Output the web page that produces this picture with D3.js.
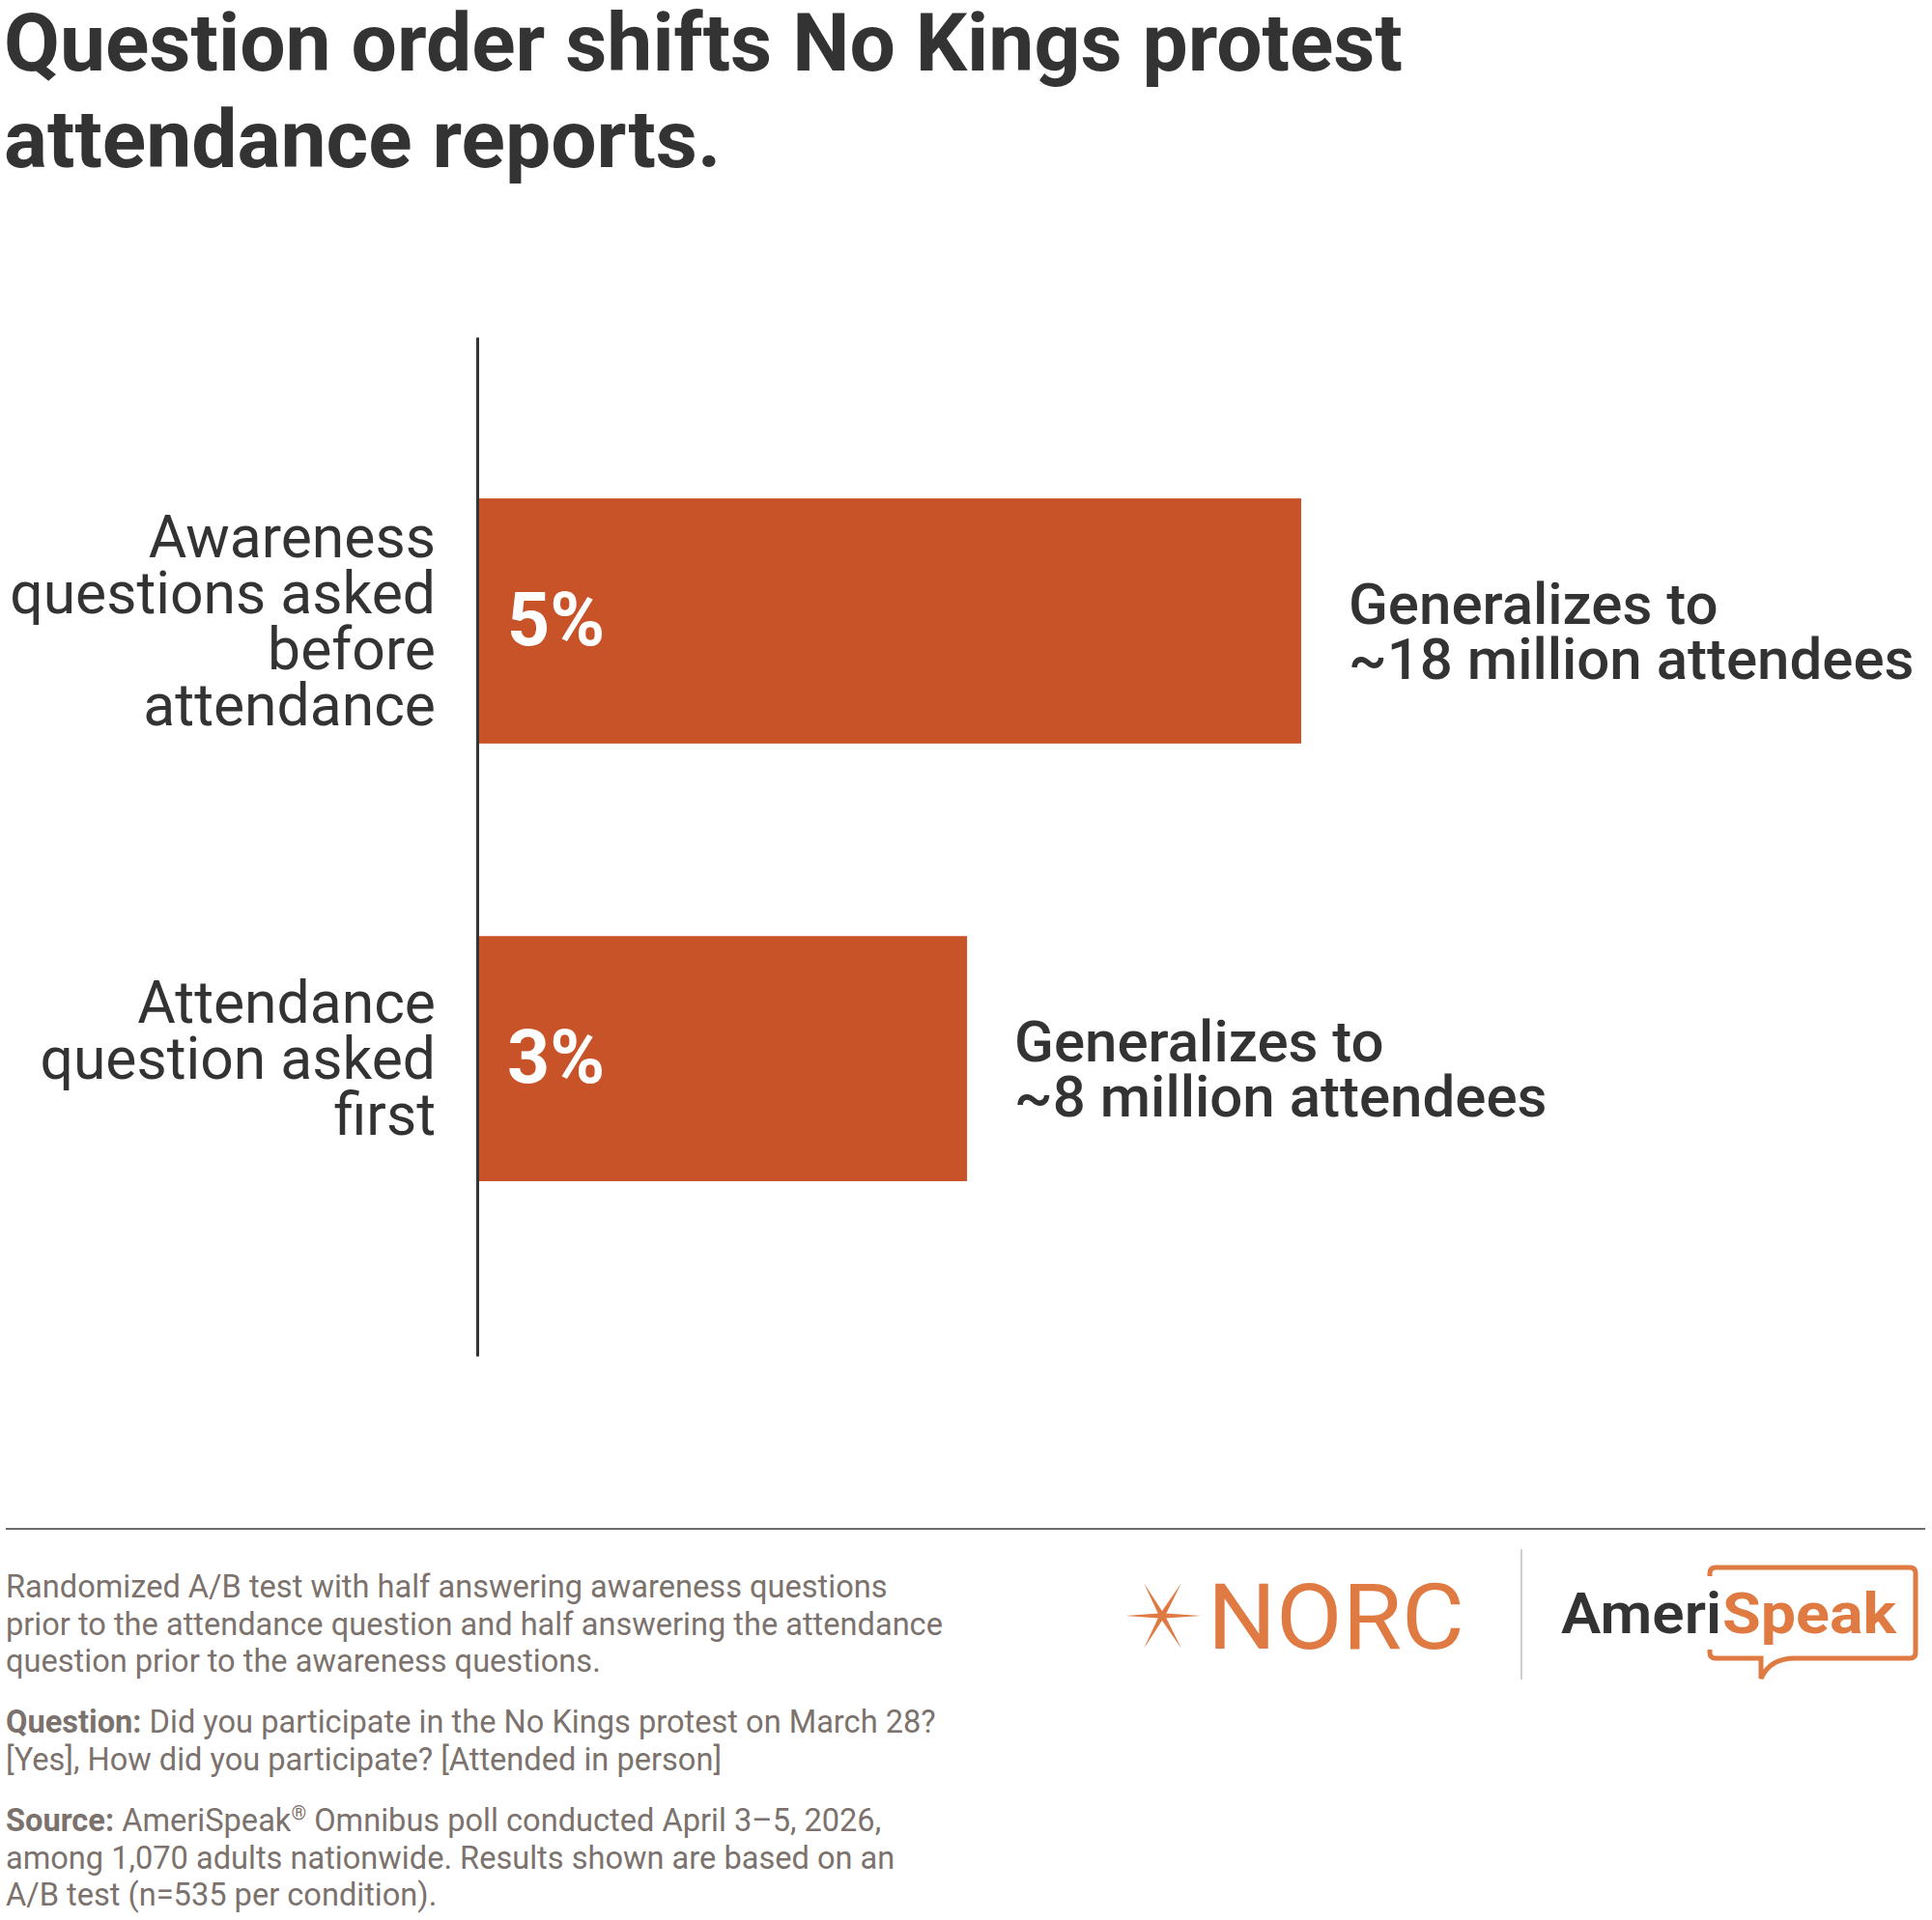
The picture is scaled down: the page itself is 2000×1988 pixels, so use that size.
<!DOCTYPE html>
<html>
  <head>
    <title>No Kings protest attendance</title>
    <script src="https://d3js.org/d3.v7.min.js"></script>
    <style>
      body { margin: 0; background: #fff; }
      text { font-family: Roboto, "Noto Sans", sans-serif; }
    </style>
  </head>
  <body>
    <div id="chart"></div>
    <script>
      var categories = [
        "Awareness|questions asked|before|attendance",
        "Attendance|question asked|first"
      ];
      var values = [5, 2.97];
      var valueLabels = ["5%", "3%"];
      var notes = [
        "Generalizes to|~18 million attendees",
        "Generalizes to|~8 million attendees"
      ];
      var titleLines = ["Question order shifts No Kings protest", "attendance reports."];
      var footNote = [
        "Randomized A/B test with half answering awareness questions",
        "prior to the attendance question and half answering the attendance",
        "question prior to the awareness questions."
      ];
      var questionLines = [
        ["Question:", " Did you participate in the No Kings protest on March 28?"],
        ["", "[Yes], How did you participate? [Attended in person]"]
      ];
      var sourceLines = [
        ["Source:", " AmeriSpeak", "®", " Omnibus poll conducted April 3–5, 2026,"],
        ["", "among 1,070 adults nationwide. Results shown are based on an"],
        ["", "A/B test (n=535 per condition)."]
      ];

      var W = 2000, H = 1988;
      var barColor = "#c85328";
      var dark = "#333333";
      var grey = "#7b726d";
      var orange = "#df7a42";

      var svg = d3.select("#chart").append("svg")
        .attr("width", W)
        .attr("height", H);

      // title
      svg.append("g").selectAll("text")
        .data(titleLines)
        .enter()
        .append("text")
        .attr("x", 4)
        .attr("y", (d, i) => 73 + i * 100)
        .attr("font-size", "84px")
        .attr("font-weight", "bold")
        .attr("fill", dark)
        .text((d) => d);

      var data = categories.map((c, i) => ({ cat: c, value: values[i], label: valueLabels[i], note: notes[i] }));

      var yScale = d3.scaleBand()
        .domain(categories)
        .range([349, 1404])
        .paddingInner(0.44)
        .paddingOuter(0.384)
        .align(0.48);

      var xScale = d3.scaleLinear().domain([0, 5]).range([495, 1347]);

      // bars
      svg.append("g")
        .selectAll("rect")
        .data(data)
        .enter()
        .append("rect")
        .attr("x", xScale(0))
        .attr("y", (d) => yScale(d.cat))
        .attr("width", (d) => xScale(d.value) - xScale(0))
        .attr("height", yScale.bandwidth())
        .attr("fill", barColor);

      // y axis: only the line, labels drawn by hand (multi-line)
      var yAxis = svg.append("g")
        .attr("transform", "translate(494,0)")
        .call(d3.axisLeft(yScale).tickSize(0).tickSizeOuter(0).tickFormat(""));
      yAxis.select(".domain").attr("stroke", dark).attr("stroke-width", 3);

      var catLabels = svg.append("g")
        .selectAll("text")
        .data(data)
        .enter()
        .append("text")
        .attr("text-anchor", "end")
        .attr("font-size", "60.6px")
        .attr("fill", dark);
      catLabels.each(function (d) {
        var lines = d.cat.split("|");
        var c = yScale(d.cat) + yScale.bandwidth() / 2;
        var y0 = c - (lines.length - 1) * 29 + 21;
        d3.select(this).selectAll("tspan")
          .data(lines)
          .enter()
          .append("tspan")
          .attr("x", 451)
          .attr("y", (l, i) => y0 + i * 58)
          .text((l) => l);
      });

      // value labels inside the bars
      svg.append("g")
        .selectAll("text")
        .data(data)
        .enter()
        .append("text")
        .attr("x", xScale(0) + 30)
        .attr("y", (d) => yScale(d.cat) + yScale.bandwidth() / 2 + 25)
        .attr("font-size", "77px")
        .attr("font-weight", "bold")
        .attr("fill", "#fff")
        .text((d) => d.label);

      // notes to the right of the bars
      var noteText = svg.append("g")
        .selectAll("text")
        .data(data)
        .enter()
        .append("text")
        .attr("font-size", "60px")
        .attr("font-weight", 500)
        .attr("fill", dark);
      noteText.each(function (d) {
        var c = yScale(d.cat) + yScale.bandwidth() / 2;
        d3.select(this).selectAll("tspan")
          .data(d.note.split("|"))
          .enter()
          .append("tspan")
          .attr("x", xScale(d.value) + 49)
          .attr("y", (l, i) => c + 3 + i * 57)
          .text((l) => l);
      });

      // footer
      svg.append("line")
        .attr("x1", 6).attr("x2", 1993)
        .attr("y1", 1583).attr("y2", 1583)
        .attr("stroke", "#6b6b6b")
        .attr("stroke-width", 2);

      var foot = svg.append("g").attr("font-size", "32.6px").attr("fill", grey);
      foot.selectAll("text.note")
        .data(footNote)
        .enter()
        .append("text")
        .attr("class", "note")
        .attr("x", 6)
        .attr("y", (d, i) => 1654 + i * 38.5)
        .text((d) => d);

      function richLines(lines, top) {
        lines.forEach(function (parts, i) {
          var t = foot.append("text").attr("x", 6).attr("y", top + i * 38.5);
          parts.forEach(function (p, j) {
            if (!p) return;
            var s = t.append("tspan").text(p);
            if (j == 0) s.attr("font-weight", "bold");
            if (p == "®") s.attr("font-size", "20px").attr("dy", -12);
            if (j == 3) s.attr("dy", 12);
          });
        });
      }
      richLines(questionLines, 1794);
      richLines(sourceLines, 1896);

      // NORC logo
      var logo = svg.append("g");
      var cx = 1203, cy = 1673;
      var tips = [[1165, 1673], [1243, 1673], [1184, 1639], [1223, 1639], [1184, 1707], [1223, 1707]];
      tips.forEach(function (t) {
        var dx = t[0] - cx, dy = t[1] - cy;
        var len = Math.sqrt(dx * dx + dy * dy);
        var px = -dy / len * 2.8, py = dx / len * 2.8;
        logo.append("path")
          .attr("d", "M" + t[0] + "," + t[1] + "L" + (cx + px) + "," + (cy + py) + "L" + (cx - px) + "," + (cy - py) + "Z")
          .attr("fill", orange);
      });
      logo.append("text")
        .attr("x", 1250)
        .attr("y", 1707)
        .attr("font-family", "Lato, 'Open Sans', sans-serif")
        .attr("font-size", "95px")
        .attr("textLength", 266)
        .attr("lengthAdjust", "spacingAndGlyphs")
        .attr("fill", orange)
        .text("NORC");

      logo.append("line")
        .attr("x1", 1575).attr("x2", 1575)
        .attr("y1", 1604).attr("y2", 1739)
        .attr("stroke", "#c4beba")
        .attr("stroke-width", 1.5);

      // AmeriSpeak logo
      logo.append("text")
        .attr("x", 1616)
        .attr("y", 1691)
        .attr("font-family", "Lato, 'Open Sans', sans-serif")
        .attr("font-size", "60px")
        .attr("font-weight", 600)
        .attr("textLength", 166)
        .attr("lengthAdjust", "spacingAndGlyphs")
        .attr("fill", dark)
        .text("Ameri");
      logo.append("text")
        .attr("x", 1783)
        .attr("y", 1691)
        .attr("font-family", "Lato, 'Open Sans', sans-serif")
        .attr("font-size", "60px")
        .attr("font-weight", "bold")
        .attr("textLength", 180)
        .attr("lengthAdjust", "spacingAndGlyphs")
        .attr("fill", orange)
        .text("Speak");
      logo.append("path")
        .attr("d", "M1770,1632 V1629 Q1770,1623 1776,1623 H1977 Q1983,1623 1983,1629 V1711 Q1983,1717 1977,1717 H1858 Q1832,1717 1823,1738 V1717 H1776 Q1770,1717 1770,1711 V1708")
        .attr("fill", "none")
        .attr("stroke", orange)
        .attr("stroke-width", 5);
    </script>
  </body>
</html>
